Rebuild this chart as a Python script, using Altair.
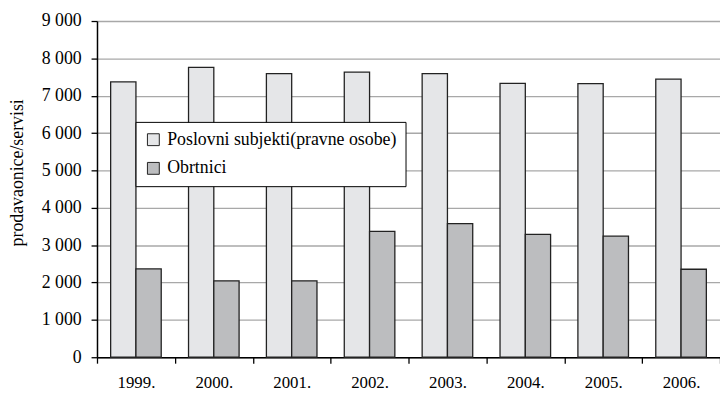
import altair as alt
import pandas as pd

years = ["1999.", "2000.", "2001.", "2002.", "2003.", "2004.", "2005.", "2006."]
series = ["Poslovni subjekti(pravne osobe)", "Obrtnici"]
poslovni = [7370, 7760, 7590, 7630, 7590, 7330, 7325, 7445]
obrtnici = [2365, 2045, 2045, 3370, 3575, 3290, 3240, 2355]
y_ticks = [0, 1000, 2000, 3000, 4000, 5000, 6000, 7000, 8000, 9000]

rows = []
for i, y in enumerate(years):
    rows.append({"godina": y, "vrsta": series[0], "broj": poslovni[i]})
    rows.append({"godina": y, "vrsta": series[1], "broj": obrtnici[i]})
df = pd.DataFrame(rows)

FONT = "Liberation Serif"

chart = alt.Chart(df).mark_bar(
    stroke="#222222", strokeWidth=1.3
).encode(
    x=alt.X(
        "godina:N",
        sort=years,
        scale=alt.Scale(domain=years, paddingInner=0, paddingOuter=0),
        axis=alt.Axis(
            title=None, labelAngle=0, tickBand="extent", tickSize=6, tickColor="#000000",
            tickWidth=1.3, domainColor="#000000", domainWidth=1.5,
            labelFont=FONT, labelFontSize=17, labelColor="#000000", labelPadding=12,
            grid=False,
        ),
    ),
    xOffset=alt.XOffset(
        "vrsta:N", sort=series,
        scale=alt.Scale(domain=series, paddingInner=0, paddingOuter=0.54),
    ),
    y=alt.Y(
        "broj:Q",
        scale=alt.Scale(domain=[0, 9000], nice=False),
        axis=alt.Axis(
            title="prodavaonice/servisi", titleFont=FONT, titleFontSize=18,
            titleFontWeight="normal", titleColor="#000000",
            titleX=-80, titleY=153, titleBaseline="middle", titleAlign="center", titleAngle=270,
            values=y_ticks,
            labelExpr="replace(format(datum.value, ','), ',', ' ')",
            labelFont=FONT, labelFontSize=18, labelColor="#000000", labelPadding=10,
            tickSize=6, tickColor="#000000", tickWidth=1.3,
            domainColor="#000000", domainWidth=1.5,
            grid=True, gridColor="#a8a8a8", gridWidth=1.4,
        ),
    ),
    color=alt.Color(
        "vrsta:N", sort=series,
        scale=alt.Scale(domain=series, range=["#e5e6e8", "#bcbdbf"]),
        legend=alt.Legend(
            title=None, orient="none", legendX=39, legendY=102, direction="vertical",
            symbolType="square", symbolSize=144, symbolStrokeColor="#222222",
            symbolStrokeWidth=1, symbolOpacity=1,
            labelFont=FONT, labelFontSize=18, labelColor="#000000", labelOffset=5,
            labelLimit=400, rowPadding=11, padding=9,
            strokeColor="#000000", fillColor="#ffffff",
        ),
    ),
).properties(
    width=630, height=340,
    autosize=alt.AutoSizeParams(type="none"),
    padding={"left": 90, "top": 11, "right": 0, "bottom": 35},
).configure_view(stroke=None)

chart.save("out.html", embed_options={"renderer": "svg", "actions": False})
